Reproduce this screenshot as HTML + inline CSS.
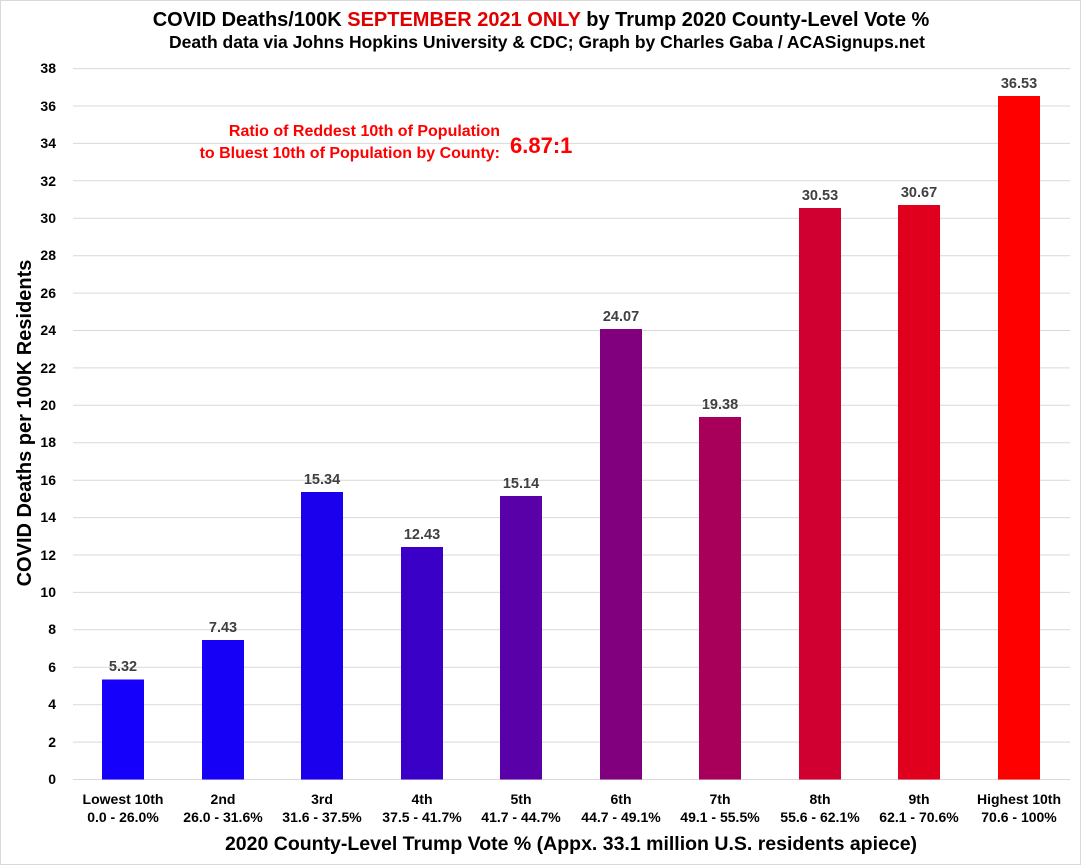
<!DOCTYPE html>
<html><head><meta charset="utf-8"><style>
body{margin:0;background:#fff}
svg{display:block;font-family:"Liberation Sans",sans-serif}
</style></head><body>
<svg width="1081" height="865" viewBox="0 0 1081 865" xmlns="http://www.w3.org/2000/svg">
<rect x="0.5" y="0.5" width="1080" height="864" fill="#fff" stroke="#d9d9d9"/>
<text x="541" y="26" text-anchor="middle" font-size="20" font-weight="bold">COVID Deaths/100K <tspan fill="#e00000">SEPTEMBER 2021 ONLY</tspan> by Trump 2020 County-Level Vote %</text>
<text x="547" y="48" text-anchor="middle" font-size="17.5" font-weight="bold">Death data via Johns Hopkins University &amp; CDC; Graph by Charles Gaba / ACASignups.net</text>
<g stroke="#d9d9d9" stroke-width="1">
<line x1="73" x2="1070" y1="779.5" y2="779.5"/><line x1="73" x2="1070" y1="742.1" y2="742.1"/><line x1="73" x2="1070" y1="704.7" y2="704.7"/><line x1="73" x2="1070" y1="667.2" y2="667.2"/><line x1="73" x2="1070" y1="629.8" y2="629.8"/><line x1="73" x2="1070" y1="592.4" y2="592.4"/><line x1="73" x2="1070" y1="555" y2="555"/><line x1="73" x2="1070" y1="517.6" y2="517.6"/><line x1="73" x2="1070" y1="480.2" y2="480.2"/><line x1="73" x2="1070" y1="442.7" y2="442.7"/><line x1="73" x2="1070" y1="405.3" y2="405.3"/><line x1="73" x2="1070" y1="367.9" y2="367.9"/><line x1="73" x2="1070" y1="330.5" y2="330.5"/><line x1="73" x2="1070" y1="293.1" y2="293.1"/><line x1="73" x2="1070" y1="255.7" y2="255.7"/><line x1="73" x2="1070" y1="218.2" y2="218.2"/><line x1="73" x2="1070" y1="180.8" y2="180.8"/><line x1="73" x2="1070" y1="143.4" y2="143.4"/><line x1="73" x2="1070" y1="106" y2="106"/><line x1="73" x2="1070" y1="68.6" y2="68.6"/>
</g>
<g font-size="14" font-weight="bold" text-anchor="end">
<text x="56" y="784">0</text><text x="56" y="747">2</text><text x="56" y="709">4</text><text x="56" y="672">6</text><text x="56" y="634">8</text><text x="56" y="597">10</text><text x="56" y="560">12</text><text x="56" y="522">14</text><text x="56" y="485">16</text><text x="56" y="447">18</text><text x="56" y="410">20</text><text x="56" y="373">22</text><text x="56" y="335">24</text><text x="56" y="298">26</text><text x="56" y="260">28</text><text x="56" y="223">30</text><text x="56" y="186">32</text><text x="56" y="148">34</text><text x="56" y="111">36</text><text x="56" y="73">38</text>
</g>
<text transform="translate(31,423) rotate(-90)" text-anchor="middle" font-size="20" font-weight="bold">COVID Deaths per 100K Residents</text>
<g>
<rect x="102" y="679.5" width="42" height="100" fill="#1400fb"/>
<rect x="202" y="640" width="42" height="139.5" fill="#1600f5"/>
<rect x="301" y="492" width="42" height="287.5" fill="#1a00ec"/>
<rect x="401" y="547" width="42" height="232.5" fill="#3a00c8"/>
<rect x="500" y="496" width="42" height="283.5" fill="#5a00a8"/>
<rect x="600" y="329" width="42" height="450.5" fill="#80007e"/>
<rect x="699" y="417" width="42" height="362.5" fill="#a8005a"/>
<rect x="799" y="208" width="42" height="571.5" fill="#d00030"/>
<rect x="898" y="205" width="42" height="574.5" fill="#e0001e"/>
<rect x="998" y="96" width="42" height="683.5" fill="#ff0000"/>
</g>
<g font-size="14.5" font-weight="bold" fill="#404040" text-anchor="middle">
<text x="123" y="671">5.32</text><text x="223" y="632">7.43</text><text x="322" y="484">15.34</text><text x="422" y="539">12.43</text><text x="521" y="488">15.14</text><text x="621" y="321">24.07</text><text x="720" y="409">19.38</text><text x="820" y="200">30.53</text><text x="919" y="197">30.67</text><text x="1019" y="88">36.53</text>
</g>
<g font-size="14" font-weight="bold" text-anchor="middle">
<text x="123" y="804">Lowest 10th</text><text x="123" y="822">0.0 - 26.0%</text>
<text x="223" y="804">2nd</text><text x="223" y="822">26.0 - 31.6%</text>
<text x="322" y="804">3rd</text><text x="322" y="822">31.6 - 37.5%</text>
<text x="422" y="804">4th</text><text x="422" y="822">37.5 - 41.7%</text>
<text x="521" y="804">5th</text><text x="521" y="822">41.7 - 44.7%</text>
<text x="621" y="804">6th</text><text x="621" y="822">44.7 - 49.1%</text>
<text x="720" y="804">7th</text><text x="720" y="822">49.1 - 55.5%</text>
<text x="820" y="804">8th</text><text x="820" y="822">55.6 - 62.1%</text>
<text x="919" y="804">9th</text><text x="919" y="822">62.1 - 70.6%</text>
<text x="1019" y="804">Highest 10th</text><text x="1019" y="822">70.6 - 100%</text>
</g>
<text x="571" y="850" text-anchor="middle" font-size="19.5" font-weight="bold">2020 County-Level Trump Vote % (Appx. 33.1 million U.S. residents apiece)</text>
<g fill="#ff0000" font-weight="bold">
<text x="500" y="136" text-anchor="end" font-size="16">Ratio of Reddest 10th of Population</text>
<text x="500" y="158" text-anchor="end" font-size="16">to Bluest 10th of Population by County:</text>
<text x="510" y="153" font-size="22">6.87:1</text>
</g>
</svg>
</body></html>
